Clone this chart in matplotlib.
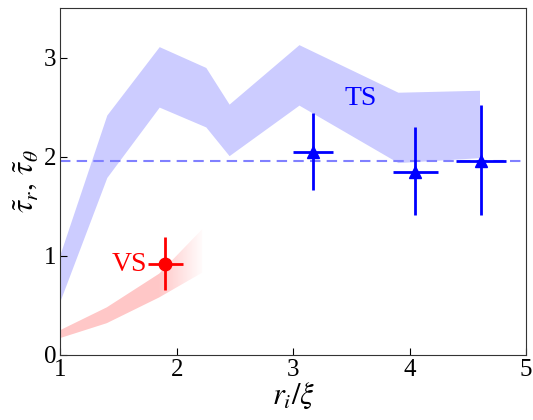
import matplotlib
matplotlib.use("Agg")
import matplotlib.pyplot as plt
import numpy as np

plt.rcParams['font.family'] = ['Liberation Serif', 'DejaVu Serif']
plt.rcParams['mathtext.fontset'] = 'stix'

# TS-Band (blau)
ts_x = [1.0, 1.4, 1.85, 2.25, 2.45, 3.05, 3.9, 4.6]
ts_lo = [0.55, 1.79, 2.50, 2.30, 2.01, 2.52, 1.94, 1.99]
ts_hi = [1.02, 2.42, 3.11, 2.90, 2.53, 3.13, 2.65, 2.67]

# VS-Band (rot, laeuft nach rechts aus)
vs_x = [1.0, 1.4, 1.85, 2.22]
vs_lo = [0.17, 0.32, 0.58, 0.83]
vs_hi = [0.25, 0.48, 0.82, 1.27]

# Messpunkte
ts_px = [3.17, 4.05, 4.61]
ts_py = [2.05, 1.85, 1.96]
ts_xerr = [0.17, 0.19, 0.215]
ts_yerr_lo = [0.39, 0.44, 0.55]
ts_yerr_hi = [0.39, 0.45, 0.56]

vs_px = [1.90]
vs_py = [0.92]
vs_xerr = [0.15]
vs_yerr = [0.27]

ts_level = 1.96

fig = plt.figure(figsize=(5.33, 4.2), dpi=100)
ax = fig.add_axes([0.113, 0.155, 0.874, 0.826])

ax.fill_between(ts_x, ts_lo, ts_hi, color='#ccccff', lw=0)

# roter Bereich mit Verlauf
poly = ax.fill_between(vs_x, vs_lo, vs_hi, facecolor='none', lw=0)
gx = np.linspace(1.0, 2.25, 300)
alpha = 0.22 * np.clip((2.25 - gx) / 0.4, 0, 1)
img = np.zeros((2, len(gx), 4))
img[..., 0] = 1.0
img[..., 3] = alpha
im = ax.imshow(img, extent=[1.0, 2.25, 0, 1.4], origin='lower',
               aspect='auto', interpolation='bilinear', zorder=1)
im.set_clip_path(poly.get_paths()[0], transform=ax.transData)

ax.axhline(ts_level, color='#8080ff', ls='--', lw=1.5, dashes=(5, 3))

ax.errorbar(ts_px, ts_py, xerr=ts_xerr, yerr=[ts_yerr_lo, ts_yerr_hi],
            fmt='^', color='blue', ms=9, elinewidth=2, capsize=0, zorder=3)
ax.errorbar(vs_px, vs_py, xerr=vs_xerr, yerr=vs_yerr,
            fmt='o', color='red', ms=9, elinewidth=2, capsize=0, zorder=3)

ax.text(3.58, 2.59, 'TS', color='blue', fontsize=20, ha='center', va='center')
ax.text(1.59, 0.91, 'VS', color='red', fontsize=20, ha='center', va='center')

ax.set_xlim(1, 5)
ax.set_ylim(0, 3.5)
ax.set_xticks([1, 2, 3, 4, 5])
ax.set_yticks([0, 1, 2, 3])
ax.tick_params(direction='in', labelsize=18, length=5, pad=3)
for s in ax.spines.values():
    s.set_color('#333333')
ax.set_xlabel(r'$r_i/\xi$', fontsize=22, labelpad=0)
ax.set_ylabel(r'$\tilde{\tau}_r,\,\tilde{\tau}_\theta$', fontsize=22, labelpad=2)

fig.savefig('out.png', dpi=100)
